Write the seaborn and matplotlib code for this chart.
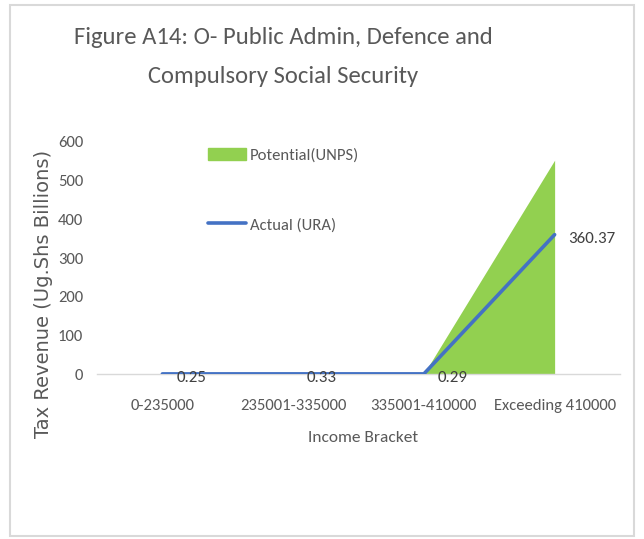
import pandas as pd
import matplotlib.pyplot as plt
import matplotlib.patches as mpatches
from matplotlib.lines import Line2D
import seaborn as sns

sns.set_theme(style="white")
# Carlito is metric compatible with Calibri (Excel default)
plt.rcParams['font.family'] = ['Carlito', 'DejaVu Sans']

# Data
brackets = ['0-235000', '235001-335000', '335001-410000', 'Exceeding 410000']
actual_ura = [0.25, 0.33, 0.29, 360.37]
potential_unps = [0.3, 0.4, 0.4, 553]
label_text = ['0.25', '0.33', '0.29', '360.37']

GREEN = '#92d050'
BLUE = '#4472c4'
TEXT = '#595959'

df = pd.DataFrame({'Bracket': brackets, 'pos': range(len(brackets)),
                   'Actual': actual_ura, 'Potential': potential_unps})

W, H = 644, 539
fig = plt.figure(figsize=(W / 100, H / 100), dpi=100)
ax = fig.add_axes([97 / W, 1 - 374 / H, (620 - 97) / W, (374 - 142) / H])

# Potential area, actual line
ax.fill_between(df['pos'], 0, df['Potential'], color=GREEN, linewidth=0, zorder=2)
sns.lineplot(x='pos', y='Actual', data=df, ax=ax, color=BLUE, linewidth=2.6,
             zorder=3, legend=False)

for x, y, t in zip(df['pos'], df['Actual'], label_text):
    ax.annotate(t, (x, y), xytext=(10, -3), textcoords='offset points',
                ha='left', va='center', fontsize=12.2, color='#404040')

ax.set_xlim(-0.5, len(brackets) - 0.5)
ax.set_ylim(0, 600)
ax.set_yticks(range(0, 601, 100))
ax.set_xticks(df['pos'])
ax.set_xticklabels(brackets)
ax.tick_params(axis='both', labelsize=12, colors=TEXT, length=0)
ax.tick_params(axis='x', pad=18)
ax.tick_params(axis='y', pad=10)
ax.set_xlabel('')
ax.set_ylabel('')
for s in ['top', 'right', 'left']:
    ax.spines[s].set_visible(False)
ax.spines['bottom'].set_color('#d9d9d9')
ax.spines['bottom'].set_linewidth(1)
ax.grid(False)

# Legend
handles = [mpatches.Patch(color=GREEN, label='Potential(UNPS)'),
           Line2D([0], [0], color=BLUE, linewidth=2.6, label='Actual (URA)')]
leg = fig.legend(handles=handles, loc='upper left',
                 bbox_to_anchor=(208 / W, 1 - 148 / H), frameon=False,
                 fontsize=12, labelspacing=3.3, handlelength=2.3,
                 handletextpad=0.2, borderpad=0, borderaxespad=0)
for t in leg.get_texts():
    t.set_color(TEXT)

# Titles and axis labels
fig.text(283 / W, 1 - 38 / H, 'Figure A14: O- Public Admin, Defence and',
         ha='center', va='center', fontsize=17.7, color=TEXT)
fig.text(283 / W, 1 - 77 / H, 'Compulsory Social Security',
         ha='center', va='center', fontsize=17.7, color=TEXT)
fig.text(44 / W, 1 - 294 / H, 'Tax Revenue (Ug.Shs Billions)', rotation=90,
         ha='center', va='center', fontsize=14, color=TEXT,
         family=['DejaVu Sans'])
fig.text(363 / W, 1 - 438 / H, 'Income Bracket', ha='center', va='center',
         fontsize=12.5, color=TEXT)

# Chart frame
fig.add_artist(mpatches.Rectangle((10 / W, 3 / H), (634 - 10) / W, (534 - 3) / H,
                                  transform=fig.transFigure, fill=False,
                                  edgecolor='#d9d9d9', linewidth=1.5))

fig.savefig('out.png', dpi=100)
